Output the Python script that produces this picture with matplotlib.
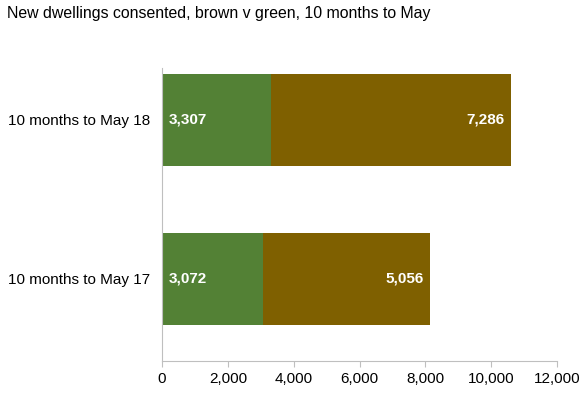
import matplotlib.pyplot as plt

plt.rcParams['font.family'] = ['Liberation Sans', 'DejaVu Sans']

categories = ['10 months to May 17', '10 months to May 18']
green = [3072, 3307]
brown = [5056, 7286]

green_color = '#538135'
brown_color = '#7f6000'

fig = plt.figure(figsize=(5.87, 3.93), dpi=100)
ax = fig.add_axes([0.276, 0.0814, 0.673, 0.7456])

ypos = range(len(categories))
b1 = ax.barh(ypos, green, height=0.58, color=green_color)
b2 = ax.barh(ypos, brown, left=green, height=0.58, color=brown_color)

for rect, val in zip(b1, green):
    ax.annotate('{:,}'.format(val),
                xy=(rect.get_x(), rect.get_y() + rect.get_height() / 2),
                xytext=(5, 0), textcoords='offset points',
                ha='left', va='center', color='white', fontsize=11, fontweight='bold')

for rect, val in zip(b2, brown):
    ax.annotate('{:,}'.format(val),
                xy=(rect.get_x() + rect.get_width(), rect.get_y() + rect.get_height() / 2),
                xytext=(-4.5, 0), textcoords='offset points',
                ha='right', va='center', color='white', fontsize=11, fontweight='bold')

ax.set_xlim(0, 12000)
ax.set_ylim(-0.516, 1.327)
ax.set_xticks(range(0, 12001, 2000))
ax.set_xticklabels(['{:,}'.format(v) for v in range(0, 12001, 2000)])
ax.set_yticks(list(ypos))
ax.set_yticklabels(categories)

for side in ['top', 'right']:
    ax.spines[side].set_visible(False)
for side in ['left', 'bottom']:
    ax.spines[side].set_color('#bfbfbf')
    ax.spines[side].set_linewidth(0.8)
ax.tick_params(axis='x', colors='#bfbfbf', length=4, labelcolor='black', labelsize=11, pad=4)
ax.tick_params(axis='y', length=0, labelsize=11, pad=8.5)

fig.text(0.012, 0.985, 'New dwellings consented, brown v green, 10 months to May',
         fontsize=11.4, va='top', ha='left')

plt.savefig('out.png', dpi=100)
